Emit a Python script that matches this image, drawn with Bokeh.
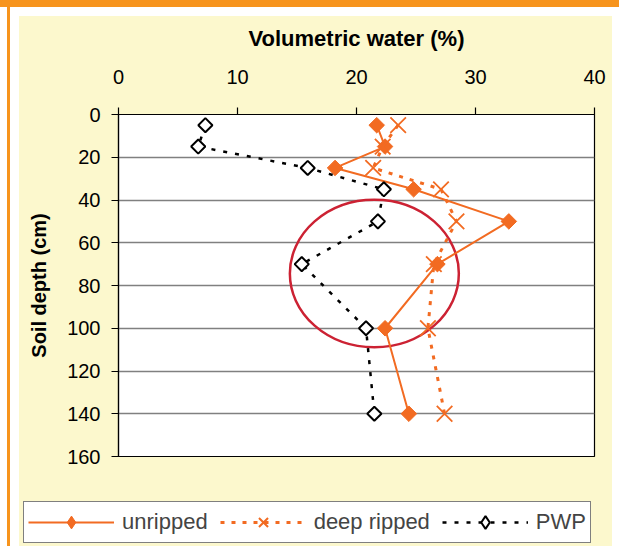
import math
from bokeh.plotting import figure
from bokeh.layouts import column
from bokeh.models import Range1d, FixedTicker, Legend, LegendItem
from bokeh.embed import file_html
from bokeh.resources import INLINE

# ---- data ----
depth = [5, 15, 25, 35, 50, 70, 100, 140]
unripped = [21.7, 22.4, 18.2, 24.8, 32.8, 26.8, 22.4, 24.4]
deep_ripped = [23.5, 22.2, 21.4, 27.1, 28.4, 26.5, 26.0, 27.4]
pwp = [7.3, 6.7, 15.9, 22.3, 21.8, 15.4, 20.8, 21.5]
x_ticks = [0, 10, 20, 30, 40]
y_ticks = [0, 20, 40, 60, 80, 100, 120, 140, 160]
series_names = ["unripped", "deep ripped", "PWP"]
ellipse_center = (21.5, 74.4)
ellipse_size = (14.2, 69.0)

ORANGE = "#F26B22"
FRAME_ORANGE = "#F7941D"
YELLOW = "#FCF8CD"
RED = "#CC2233"
FONT = "Liberation Sans"

MAIN_BG = ("linear-gradient(%s,%s) 0 0 / 100%% 7px no-repeat, "
           "linear-gradient(%s,%s) 7px 0 / 3px 100%% no-repeat, "
           "linear-gradient(%s,%s) 19px 16px / 593px 100%% no-repeat, white"
           % (FRAME_ORANGE, FRAME_ORANGE, FRAME_ORANGE, FRAME_ORANGE, YELLOW, YELLOW))
LEG_BG = ("linear-gradient(%s,%s) 7px 0 / 3px 100%% no-repeat, "
          "linear-gradient(%s,%s) 19px 0 / 593px 100%% no-repeat, white"
          % (FRAME_ORANGE, FRAME_ORANGE, YELLOW, YELLOW))

p = figure(width=619, height=497, x_range=Range1d(0, 40), y_range=Range1d(160, 0),
           x_axis_location="above", output_backend="svg", toolbar_location=None,
           min_border_left=118, min_border_right=25, min_border_top=114,
           min_border_bottom=41, border_fill_color=None, border_fill_alpha=0,
           background_fill_color="white", outline_line_color="black",
           outline_line_width=1.2, styles={"background": MAIN_BG},
           frame_align=False)

p.xgrid.visible = False
p.ygrid.ticker = FixedTicker(ticks=y_ticks)
p.ygrid.grid_line_color = "#808080"
p.ygrid.grid_line_width = 1.5

# axes
xa = p.xaxis[0]
xa.ticker = FixedTicker(ticks=x_ticks)
xa.axis_label = "Volumetric water (%)"
ya = p.yaxis[0]
ya.ticker = FixedTicker(ticks=y_ticks)
ya.axis_label = "Soil depth (cm)"
for ax in (xa, ya):
    ax.axis_line_color = "black"
    ax.axis_line_width = 1.2
    ax.major_tick_line_color = "black"
    ax.major_tick_line_width = 1.2
    ax.major_tick_out = 7
    ax.major_tick_in = 0
    ax.minor_tick_line_color = None
    ax.major_label_text_font = FONT
    ax.major_label_text_font_size = "20px"
    ax.major_label_text_color = "black"
    ax.axis_label_text_font = FONT
    ax.axis_label_text_font_style = "bold"
    ax.axis_label_text_color = "black"
xa.axis_label_text_font_size = "22px"
ya.axis_label_text_font_size = "20px"
xa.major_label_standoff = 24
xa.axis_label_standoff = 16
ya.major_label_standoff = 11
ya.axis_label_standoff = 14

# ellipse highlight
p.ellipse(x=[ellipse_center[0]], y=[ellipse_center[1]], width=ellipse_size[0],
          height=ellipse_size[1], fill_alpha=0, line_color=RED, line_width=2.5)

UN_LINE = dict(line_color=ORANGE, line_width=2)
UN_MARK = dict(marker="square", angle=math.pi / 4, fill_color=ORANGE, line_color=ORANGE)
DR_LINE = dict(line_color=ORANGE, line_width=3, line_dash="4 7")
DR_MARK = dict(marker="x", line_color=ORANGE, line_width=1.8)
PW_LINE = dict(line_color="black", line_width=2.5, line_dash="4 8")
PW_MARK = dict(marker="square", angle=math.pi / 4, fill_color="white",
               line_color="black", line_width=2)

# series
p.line(unripped, depth, **UN_LINE)
p.scatter(unripped, depth, size=11, **UN_MARK)
p.line(deep_ripped, depth, **DR_LINE)
p.scatter(deep_ripped, depth, size=22, **DR_MARK)
p.line(pwp, depth, **PW_LINE)
p.scatter(pwp, depth, size=10, **PW_MARK)

# legend strip: a second figure whose frame spans its whole canvas; its
# renderers reuse the series but fall outside its tiny range (legend proxies)
lf = figure(width=619, height=49, x_range=Range1d(0, 1), y_range=Range1d(0, 1),
            output_backend="svg", toolbar_location=None, min_border=0,
            border_fill_color=None, border_fill_alpha=0,
            background_fill_color=None, background_fill_alpha=0,
            outline_line_color=None, styles={"background": LEG_BG},
            frame_align=False)
lf.axis.visible = False
lf.grid.visible = False
LEG_MARKS = (dict(marker="diamond", fill_color=ORANGE, line_color=ORANGE),
             dict(marker="x", line_color=ORANGE, line_width=2),
             dict(marker="diamond", fill_color="white", line_color="black",
                  line_width=2))
items = []
for name, vals, lkw, mkw in zip(series_names, (unripped, deep_ripped, pwp),
                                (UN_LINE, DR_LINE, PW_LINE), LEG_MARKS):
    r1 = lf.line(vals, depth, **lkw)
    r2 = lf.scatter(vals, depth, **mkw)
    items.append(LegendItem(label=name, renderers=[r1, r2]))
legend = Legend(items=items, orientation="horizontal", location=(23, 3),
                label_text_font=FONT, label_text_font_size="22px",
                glyph_width=86, glyph_height=32, label_height=25,
                label_standoff=8, spacing=12, padding=4, margin=0,
                border_line_color="black", border_line_width=1,
                background_fill_color="white", background_fill_alpha=1)
lf.add_layout(legend, "center")

page = column(p, lf, spacing=0)
open("out.html", "w").write(file_html(page, INLINE))
